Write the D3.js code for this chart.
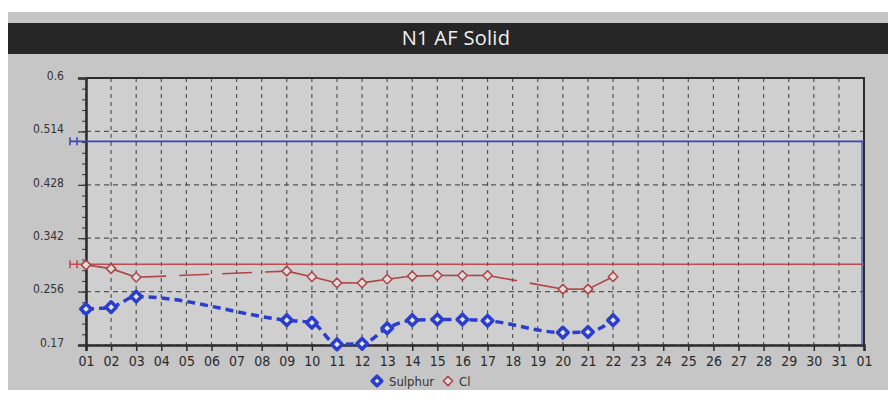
<!DOCTYPE html>
<html>
<head>
<meta charset="utf-8">
<script src="https://cdn.jsdelivr.net/npm/d3@7"></script>
<style>
  body { margin: 0; background: #fff; }
  svg { display: block; }
</style>
</head>
<body>
<div id="chart"></div>
<script>
// N1 AF Solid - daily Sulphur / Cl with limit lines

var title = "N1 AF Solid";
var xLabels = ["01","02","03","04","05","06","07","08","09","10","11","12","13","14","15","16",
               "17","18","19","20","21","22","23","24","25","26","27","28","29","30","31","01"];
var yTicks = [0.17, 0.256, 0.342, 0.428, 0.514, 0.6];

var days = [1, 2, 3, 9, 10, 11, 12, 13, 14, 15, 16, 17, 20, 21, 22];
var sulphur = [0.228, 0.231, 0.248, 0.210, 0.206, 0.171, 0.172, 0.197, 0.210, 0.211, 0.211, 0.209, 0.190, 0.191, 0.210];
var cl = [0.299, 0.293, 0.279, 0.289, 0.280, 0.270, 0.270, 0.276, 0.281, 0.282, 0.282, 0.282, 0.260, 0.260, 0.280];

var sulphurLimit = 0.498;
var clLimit = 0.300;

var seriesNames = ["Sulphur", "Cl"];

var W = 888, H = 403;
var margin = { top: 78, right: 24, bottom: 58, left: 86 };
var width = W - margin.left - margin.right,
    height = H - margin.top - margin.bottom;

var blue = "#2b3dcc", blueLim = "#3b46b8", red = "#b04447", redLim = "#bf4a52";
var font = "'DejaVu Sans Condensed','Liberation Sans',sans-serif";

var svg = d3.select("#chart").append("svg")
    .attr("width", W)
    .attr("height", H);

// backgrounds
svg.append("rect").attr("x", 0).attr("y", 0).attr("width", W).attr("height", H).attr("fill", "#fff");
svg.append("rect").attr("x", 8).attr("y", 12).attr("width", W - 8).attr("height", 378).attr("fill", "#c6c6c6");
svg.append("rect").attr("x", 8).attr("y", 23).attr("width", W - 8).attr("height", 31).attr("fill", "#262626");
svg.append("text")
    .attr("x", 456).attr("y", 45)
    .attr("text-anchor", "middle")
    .attr("fill", "#f2f2f2")
    .attr("font-family", "'Open Sans',sans-serif")
    .attr("font-size", "20px")
    .attr("letter-spacing", "0.3px")
    .text(title);

var g = svg.append("g")
    .attr("transform", "translate(" + margin.left + "," + margin.top + ")");

g.append("rect").attr("width", width).attr("height", height).attr("fill", "#cfcfcf");

var x = d3.scaleLinear().domain([1, 32]).range([0, width]);
var y = d3.scaleLinear().domain([0.17, 0.6]).range([height, 0]);

// grid
g.selectAll(".vgrid").data(d3.range(1, 33)).enter().append("line")
    .attr("x1", d => x(d)).attr("x2", d => x(d))
    .attr("y1", 0).attr("y2", height)
    .attr("stroke", "#555").attr("stroke-width", 1.2)
    .attr("stroke-dasharray", "4,4");
g.selectAll(".hgrid").data(yTicks).enter().append("line")
    .attr("x1", 0).attr("x2", width)
    .attr("y1", d => y(d)).attr("y2", d => y(d))
    .attr("stroke", "#555").attr("stroke-width", 1.2)
    .attr("stroke-dasharray", "5,4");

// axes
var xAxis = d3.axisBottom(x)
    .tickValues(d3.range(1, 33))
    .tickFormat((d, i) => xLabels[i])
    .tickSize(6);
g.append("g")
    .attr("transform", "translate(0," + height + ")")
    .call(xAxis)
    .call(a => a.select(".domain").attr("stroke", "#2b2b2b").attr("stroke-width", 2.5))
    .call(a => a.selectAll(".tick line").attr("stroke", "#2b2b2b").attr("stroke-width", 1.5))
    .call(a => a.selectAll("text").attr("font-family", font).attr("font-size", "14px").attr("fill", "#2a2a2a").attr("dy", "0.85em"));

var minor = d3.range(0, 26).map(i => 0.17 + i * 0.0172);
g.append("g")
    .call(d3.axisLeft(y).tickValues(minor).tickFormat("").tickSize(4))
    .call(a => a.select(".domain").remove())
    .call(a => a.selectAll(".tick line").attr("stroke", "#333"));
g.append("g")
    .call(d3.axisLeft(y).tickValues(yTicks).tickFormat(d => d).tickSize(8))
    .call(a => a.select(".domain").attr("stroke", "#2b2b2b").attr("stroke-width", 2.5))
    .call(a => a.selectAll(".tick line").attr("stroke", "#333").attr("stroke-width", 1.2))
    .call(a => a.selectAll("text").attr("font-family", font).attr("font-size", "12px").attr("fill", "#333").attr("x", -22).attr("dy", "0.1em"));

// top/right border
g.append("path")
    .attr("d", "M0,0H" + width + "V" + height)
    .attr("fill", "none").attr("stroke", "#2b2b2b").attr("stroke-width", 2);

// limit lines with cap marker on the left
function limitLine(v, col) {
    var yy = y(v);
    g.append("line").attr("x1", -16).attr("x2", width).attr("y1", yy).attr("y2", yy)
        .attr("stroke", col).attr("stroke-width", 1.6);
    [-16, -9].forEach(function(dx) {
        g.append("line").attr("x1", dx).attr("x2", dx).attr("y1", yy - 4).attr("y2", yy + 4)
            .attr("stroke", col).attr("stroke-width", 1.6);
    });
}
limitLine(sulphurLimit, blueLim);
limitLine(clLimit, redLim);
g.append("line").attr("x1", width - 2).attr("x2", width - 2)
    .attr("y1", y(sulphurLimit)).attr("y2", height)
    .attr("stroke", blueLim).attr("stroke-width", 1.2);

// Cl series: solid between consecutive days, long dashes across gaps
var clPts = days.map((d, i) => [d, cl[i]]);
var segLine = d3.line().x(d => x(d[0])).y(d => y(d[1]));
for (var i = 1; i < clPts.length; i++) {
    var gap = clPts[i][0] - clPts[i - 1][0] > 1;
    g.append("path")
        .attr("d", segLine([clPts[i - 1], clPts[i]]))
        .attr("fill", "none").attr("stroke", red).attr("stroke-width", 1.6)
        .attr("stroke-dasharray", gap ? "30,13" : null);
}

// Sulphur series
var sPts = days.map((d, i) => [d, sulphur[i]]);
g.append("path")
    .attr("d", d3.line().x(d => x(d[0])).y(d => y(d[1])).curve(d3.curveMonotoneX)(sPts))
    .attr("fill", "none").attr("stroke", blue).attr("stroke-width", 3.5)
    .attr("stroke-dasharray", "8,5");

var diamond = d3.symbol().type(d3.symbolDiamond2);

g.selectAll(".clm").data(clPts).enter().append("path")
    .attr("d", diamond.size(58)())
    .attr("transform", d => "translate(" + x(d[0]) + "," + y(d[1]) + ")")
    .attr("fill", "#dcdcdc").attr("stroke", red).attr("stroke-width", 1.5)
    .attr("stroke-linejoin", "round");

g.selectAll(".sm").data(sPts).enter().append("path")
    .attr("d", diamond.size(72)())
    .attr("transform", d => "translate(" + x(d[0]) + "," + y(d[1]) + ")")
    .attr("fill", "#e4e4e4").attr("stroke", blue).attr("stroke-width", 3.5)
    .attr("stroke-linejoin", "round");

// legend
var leg = svg.append("g").attr("transform", "translate(377,381)");
leg.append("path").attr("d", diamond.size(60)())
    .attr("fill", "#e4e4e4").attr("stroke", blue).attr("stroke-width", 3.5)
    .attr("stroke-linejoin", "round");
leg.append("text").attr("x", 12).attr("y", 4.5).text(seriesNames[0])
    .attr("font-family", font).attr("font-size", "13px").attr("fill", "#333");
leg.append("path").attr("d", diamond.size(55)())
    .attr("transform", "translate(71,0)")
    .attr("fill", "#dcdcdc").attr("stroke", red).attr("stroke-width", 1.5)
    .attr("stroke-linejoin", "round");
leg.append("text").attr("x", 82).attr("y", 4.5).text(seriesNames[1])
    .attr("font-family", font).attr("font-size", "13px").attr("fill", "#333");
</script>
</body>
</html>
